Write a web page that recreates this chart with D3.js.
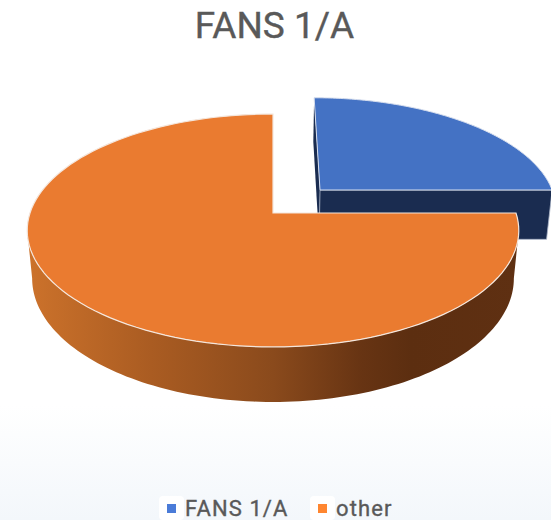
<!DOCTYPE html>
<html>
<head>
<meta charset="utf-8">
<style>
html,body{margin:0;padding:0;background:#fff;overflow:hidden}
svg{display:block}
text{font-family:Roboto,sans-serif;font-weight:400;fill:#595959;stroke:#595959;stroke-width:0.35}
</style>
<script src="https://cdn.jsdelivr.net/npm/d3@7"></script>
</head>
<body>
<svg id="chart" width="551" height="520"></svg>
<script>
const chartTitle = "FANS 1/A";
const categories = ["FANS 1/A", "other"];
const shares = [25, 75];
const topColors = ["#4472c4", "#ea7b30"];
const legendColors = ["#4a7bd8", "#ff8630"];
const wallColors = ["#1a2c50", "#5f3012"];

const W = 551, H = 520;
const svg = d3.select("#chart");
const defs = svg.append("defs");

// Perspective camera: depth foreshortens both axes around a horizon line
const centerX = 273, horizonY = -546, planeK = 759, radiusX = 243, depthA = 0.15;
const lowerX = 0.98, lowerY = 1.0616;
const explode = {
  0: { dx: 48.5, dz: 0.03125, r: 0.985, drop: 4 },
  1: { dx: 0, dz: 0, r: 1, drop: 0 }
};

function project(angle, r, off, lower) {
  const z = 1 + off.dz + depthA * r * off.r * Math.cos(angle);
  const X = off.dx + radiusX * r * off.r * Math.sin(angle);
  return [
    centerX + (lower ? lowerX : 1) * X / z,
    horizonY + (lower ? lowerY : 1) * planeK / z + (lower ? off.drop : 0)
  ];
}
const line = d3.line();
const sweep = (a, b) => d3.range(0, 121).map(i => a + (b - a) * i / 120);

const slices = d3.pie().sort(null)(shares);

// Page background fades to a pale blue-grey at the foot
const bg = defs.append("linearGradient").attr("id", "bg").attr("x1", 0).attr("y1", 0).attr("x2", 0).attr("y2", 1);
[[0, "#ffffff"], [0.78, "#ffffff"], [1, "#f3f7fb"]].forEach(s => bg.append("stop").attr("offset", s[0]).attr("stop-color", s[1]));
svg.append("rect").attr("width", W).attr("height", H).attr("fill", "url(#bg)");

// Shaded outer wall of the large slice
const wallGrad = defs.append("linearGradient").attr("id", "wall")
  .attr("gradientUnits", "userSpaceOnUse").attr("x1", 28).attr("y1", 0).attr("x2", 519).attr("y2", 0);
[[0, "#cc722b"], [0.25, "#aa5c22"], [0.5, "#8a4a1c"], [0.68, "#673413"], [0.78, "#5c2e10"], [1, wallColors[1]]]
  .forEach(s => wallGrad.append("stop").attr("offset", s[0]).attr("stop-color", s[1]));

const g = svg.append("g");

// Blue slice: inner faces first, then its top
{
  const s = slices[0], off = explode[0];
  const apexTop = project(0, 0, off, false), apexLow = project(0, 0, off, true);
  const backTop = project(s.startAngle, 1, off, false), backLow = project(s.startAngle, 1, off, true);
  const sideTop = project(s.endAngle, 1, off, false), sideLow = project(s.endAngle, 1, off, true);
  g.append("path").attr("d", line([backTop, apexTop, apexLow, backLow]) + "Z").attr("fill", wallColors[0]);
  g.append("path").attr("d", line([apexTop, sideTop, sideLow, apexLow]) + "Z")
    .attr("fill", wallColors[0]).attr("stroke", "#aab4c6").attr("stroke-width", 0.8);
  const top = [apexTop, ...sweep(s.startAngle, s.endAngle).map(a => project(a, 1, off, false))];
  g.append("path").attr("d", line(top) + "Z").attr("fill", topColors[0]).attr("stroke", "#d6deee").attr("stroke-width", 1);
}

// Orange slice: curved wall, then its top
{
  const s = slices[1], off = explode[1];
  const tilt = Math.asin(depthA);
  const arc = sweep(Math.PI / 2 + tilt, 3 * Math.PI / 2 - tilt);
  const rimTop = arc.map(a => project(a, 1, off, false));
  const rimLow = arc.map(a => project(a, 1, off, true)).reverse();
  g.append("path").attr("d", line(rimTop.concat(rimLow)) + "Z").attr("fill", "url(#wall)");
  const top = [project(0, 0, off, false), ...sweep(s.startAngle, s.endAngle).map(a => project(a, 1, off, false))];
  g.append("path").attr("d", line(top) + "Z").attr("fill", topColors[1]).attr("stroke", "#f4e6dc").attr("stroke-width", 1.2);
}

// Title
svg.append("text").attr("x", 274.5).attr("y", 38).attr("text-anchor", "middle")
  .attr("font-size", 37).text(chartTitle);

// Legend
const legendX = d3.scaleOrdinal().domain(categories).range([159, 310]);
const legend = svg.append("g").selectAll("g").data(categories).join("g")
  .attr("transform", d => `translate(${legendX(d)},496)`);
legend.append("rect").attr("width", 25).attr("height", 24).attr("rx", 4).attr("fill", "#fff");
legend.append("rect").attr("x", 8).attr("y", 8).attr("width", 9).attr("height", 9)
  .attr("fill", (d, i) => legendColors[i]);
legend.append("text").attr("x", 26).attr("y", 20).attr("font-size", 22).attr("letter-spacing", 1.1).text(d => d);
</script>
</body>
</html>
